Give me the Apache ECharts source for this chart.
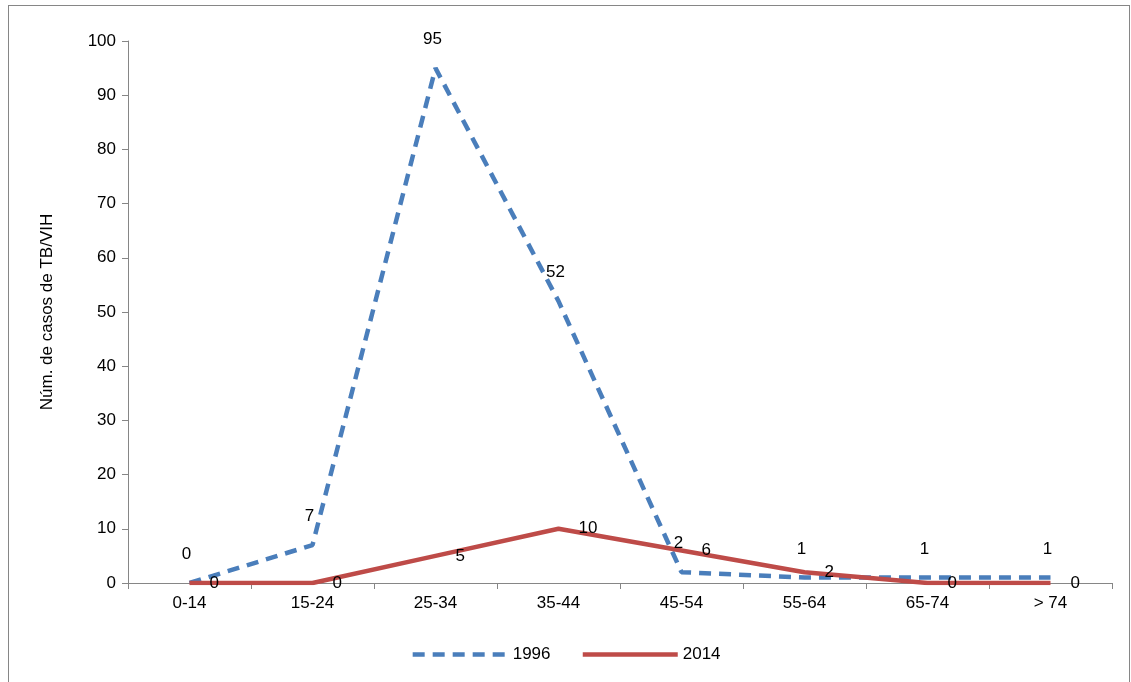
<!DOCTYPE html>
<html>
<head>
<meta charset="utf-8">
<script src="https://cdn.jsdelivr.net/npm/echarts@6/dist/echarts.min.js"></script>
<style>
body{margin:0;background:#fff;}
#frame{position:absolute;left:8px;top:5px;width:1120px;height:700px;border:1px solid #868686;}
#chart{position:absolute;left:0;top:0;width:1131px;height:682px;}
</style>
</head>
<body>
<div id="frame"></div>
<div id="chart"></div>
<script>
// grupos de edad
var categories = ['0-14','15-24','25-34','35-44','45-54','55-64','65-74','> 74'];
var data1996 = [0, 7, 95, 52, 2, 1, 1, 1];
var data2014 = [0, 0, 5, 10, 6, 2, 0, 0];

var myChart = echarts.init(document.getElementById('chart'));
var txt = {fontFamily:'Liberation Sans, Arial', fontSize:17, color:'#000'};
myChart.setOption({
    animation:false,
    textStyle:{fontFamily:'Liberation Sans, Arial'},
    grid:{left:128, right:19, top:41, bottom:99},
    legend:{
        bottom:14, left:'center', itemWidth:95, itemHeight:14, itemGap:30,
        itemStyle:{opacity:0},
        lineStyle:{width:4.5},
        textStyle:txt,
        data:['1996','2014']
    },
    xAxis:{
        type:'category',
        data:categories,
        boundaryGap:true,
        axisLine:{lineStyle:{color:'#868686'}},
        axisTick:{show:true, length:6, lineStyle:{color:'#868686'}},
        axisLabel:{color:'#000', fontSize:17, margin:12}
    },
    yAxis:{
        type:'value',
        min:0, max:100, interval:10,
        name:'Núm. de casos de TB/VIH',
        nameLocation:'middle',
        nameGap:72,
        nameTextStyle:txt,
        axisLine:{show:true, lineStyle:{color:'#868686'}},
        axisTick:{show:true, length:6, lineStyle:{color:'#868686'}},
        axisLabel:{color:'#000', fontSize:17, margin:12},
        splitLine:{show:false}
    },
    series:[
        {
            name:'1996', type:'line', data:data1996,
            symbol:'circle', symbolSize:0.1, showSymbol:true,
            itemStyle:{color:'#4a7ebb'},
            lineStyle:{color:'#4a7ebb', width:4.5, type:[12,8]},
            label:{show:true, position:'top', distance:20, offset:[-3,0], color:'#000', fontSize:17}
        },
        {
            name:'2014', type:'line', data:data2014,
            symbol:'circle', symbolSize:0.1, showSymbol:true,
            itemStyle:{color:'#be4b48'},
            lineStyle:{color:'#be4b48', width:4.5},
            label:{show:true, position:'right', distance:20, color:'#000', fontSize:17}
        }
    ]
});
</script>
</body>
</html>
